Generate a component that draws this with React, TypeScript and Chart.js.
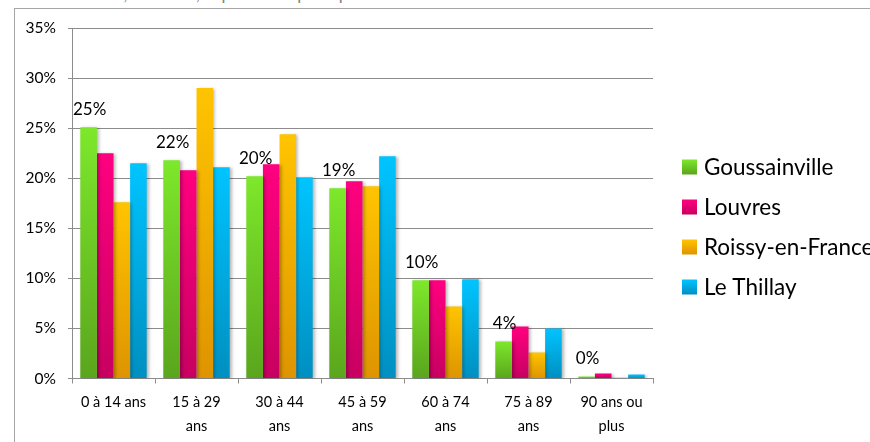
import React, { useEffect, useRef } from "react";
import { Chart, registerables } from "chart.js";

Chart.register(...registerables);

// ---- data ----
const categories: (string | string[])[] = [
  "0 à 14 ans",
  ["15 à 29", "ans"],
  ["30 à 44", "ans"],
  ["45 à 59", "ans"],
  ["60 à 74", "ans"],
  ["75 à 89", "ans"],
  ["90 ans ou", "plus"],
];
const seriesNames = ["Goussainville", "Louvres", "Roissy-en-France", "Le Thillay"];
const goussainville = [25.1, 21.8, 20.2, 19.0, 9.8, 3.7, 0.2];
const louvres = [22.5, 20.8, 21.4, 19.7, 9.8, 5.2, 0.5];
const roissy = [17.6, 29.0, 24.4, 19.2, 7.2, 2.6, 0.1];
const thillay = [21.5, 21.1, 20.1, 22.2, 9.9, 5.0, 0.4];
const yMin = 0;
const yMax = 35;
const yStep = 5;
const sourceText = "Source : INSEE, RP 2018, exploitation principale";

// ---- styles ----
const FONT = "Lato, 'Open Sans', sans-serif";
const seriesColors: [string, string][] = [
  ["#7de82b", "#5aa51d"],
  ["#ff0080", "#c70060"],
  ["#ffc400", "#de9400"],
  ["#00c4ff", "#008fc0"],
];
const GRID = "#8c8c8c";

const gradientFill = (top: string, bottom: string) => (ctx: any) => {
  const chart = ctx.chart;
  const y = chart.scales && chart.scales.y;
  if (!y || ctx.type !== "data") return top;
  const v = ctx.raw as number;
  const y0 = y.getPixelForValue(v);
  const y1 = y.getPixelForValue(0);
  if (!isFinite(y0) || !isFinite(y1) || y1 - y0 < 2) return top;
  const g = chart.ctx.createLinearGradient(0, y0, 0, y1);
  g.addColorStop(0, top);
  g.addColorStop(1, bottom);
  return g;
};

const shadowPlugin = {
  id: "barShadow",
  beforeDatasetsDraw(chart: any) {
    const c = chart.ctx;
    c.save();
    c.shadowColor = "rgba(0,0,0,0.28)";
    c.shadowBlur = 3;
    c.shadowOffsetX = 2;
    c.shadowOffsetY = 1;
  },
  afterDatasetsDraw(chart: any) {
    chart.ctx.restore();
  },
};

const labelPlugin = {
  id: "greenLabels",
  afterDraw(chart: any) {
    const meta = chart.getDatasetMeta(0);
    const data = chart.data.datasets[0].data as number[];
    const c = chart.ctx;
    c.save();
    c.font = `17px ${FONT}`;
    c.fillStyle = "#000";
    c.textAlign = "center";
    c.textBaseline = "alphabetic";
    meta.data.forEach((el: any, i: number) => {
      c.fillText(Math.round(data[i]) + "%", el.x + 1, el.y - 12);
    });
    c.restore();
  },
};

const LEGEND_X = 682;
const LEGEND_Y0 = 167;
const LEGEND_STEP = 40;
const LEGEND_BOX = 15;

const legendPlugin = {
  id: "sideLegend",
  afterDraw(chart: any) {
    const c = chart.ctx;
    c.save();
    c.font = `22.5px ${FONT}`;
    c.textBaseline = "middle";
    c.textAlign = "left";
    chart.data.datasets.forEach((ds: any, i: number) => {
      const cy = LEGEND_Y0 + i * LEGEND_STEP;
      const [t, b] = seriesColors[i];
      const g = c.createLinearGradient(0, cy - LEGEND_BOX / 2, 0, cy + LEGEND_BOX / 2);
      g.addColorStop(0, t);
      g.addColorStop(1, b);
      c.fillStyle = g;
      c.fillRect(LEGEND_X, cy - LEGEND_BOX / 2, LEGEND_BOX, LEGEND_BOX);
      c.fillStyle = "#000";
      c.fillText(ds.label, LEGEND_X + LEGEND_BOX + 7, cy + 1);
    });
    c.restore();
  },
};

export default function App() {
  const ref = useRef<HTMLCanvasElement | null>(null);

  useEffect(() => {
    if (!ref.current) return;
    const series = [goussainville, louvres, roissy, thillay];
    const chart = new Chart(ref.current, {
      type: "bar",
      data: {
        labels: categories as any,
        datasets: series.map((d, i) => ({
          label: seriesNames[i],
          data: d,
          backgroundColor: gradientFill(seriesColors[i][0], seriesColors[i][1]),
          borderWidth: 0,
          barPercentage: 1,
          categoryPercentage: 0.8,
        })),
      },
      options: {
        animation: false,
        responsive: false,
        devicePixelRatio: 1,
        layout: { padding: { top: 28, right: 217, bottom: 0, left: 0 } },
        plugins: {
          legend: { display: false },
          tooltip: { enabled: false },
          title: { display: false },
        },
        scales: {
          x: {
            grid: {
              offset: true,
              drawOnChartArea: false,
              drawTicks: true,
              tickLength: 5,
              color: GRID,
            },
            border: { display: true, color: GRID, width: 1 },
            ticks: {
              color: "#000",
              padding: 7,
              maxRotation: 0,
              autoSkip: false,
              font: { family: FONT, size: 14.5, lineHeight: 1.65 },
            },
            afterFit: (s: any) => {
              s.height = 63.5;
            },
          },
          y: {
            min: yMin,
            max: yMax,
            ticks: {
              stepSize: yStep,
              color: "#000",
              padding: 12,
              font: { family: FONT, size: 15.5 },
              callback: (v: any) => v + "%",
            },
            grid: { color: GRID, tickLength: 4, drawTicks: true },
            border: { display: true, color: GRID, width: 1 },
            afterFit: (s: any) => {
              s.width = 72;
            },
          },
        },
      },
      plugins: [shadowPlugin, labelPlugin, legendPlugin],
    });
    return () => chart.destroy();
  }, []);

  return (
    <div
      style={{
        position: "fixed",
        left: 0,
        top: 0,
        width: 870,
        height: 442,
        overflow: "hidden",
        background: "#fff",
      }}
    >
      <div
        style={{
          position: "absolute",
          left: 13,
          top: -15,
          fontFamily: FONT,
          fontSize: 17,
          lineHeight: "17px",
          color: "#7f7f7f",
          whiteSpace: "nowrap",
        }}
      >
        {sourceText}
      </div>
      <div
        style={{
          position: "absolute",
          left: 14,
          top: 8,
          width: 1000,
          height: 600,
          border: "1px solid #a6a6a6",
          boxSizing: "border-box",
        }}
      />
      <canvas
        ref={ref}
        width={870}
        height={442}
        style={{ position: "absolute", left: 0, top: 0, width: 870, height: 442 }}
      />
    </div>
  );
}
